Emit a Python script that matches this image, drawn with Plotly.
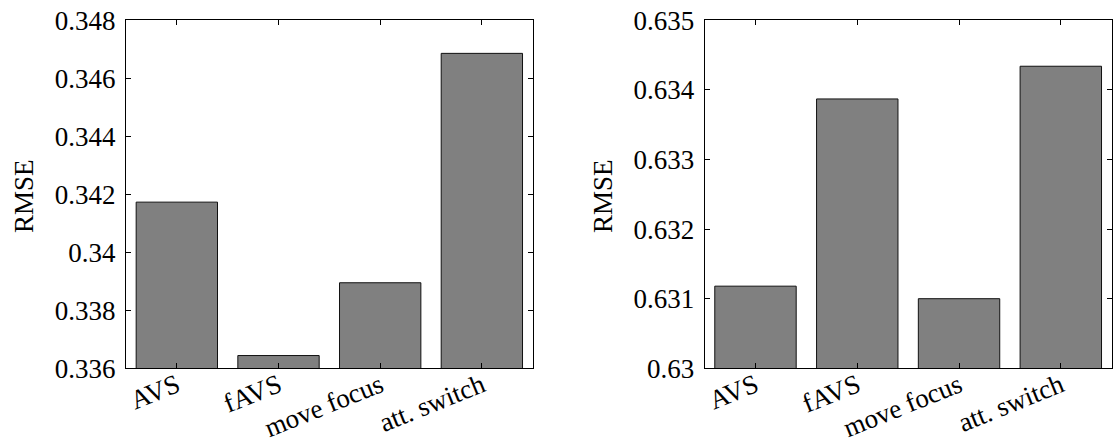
import plotly.graph_objects as go

categories = ["AVS", "fAVS", "move focus", "att. switch"]
left_values = [0.34173, 0.33644, 0.33895, 0.34686]
right_values = [0.63118, 0.63387, 0.63100, 0.63434]
left_ticks = [0.336, 0.338, 0.340, 0.342, 0.344, 0.346, 0.348]
left_ticktext = ["0.336", "0.338", "0.34", "0.342", "0.344", "0.346", "0.348"]
right_ticks = [0.630, 0.631, 0.632, 0.633, 0.634, 0.635]
right_ticktext = ["0.63", "0.631", "0.632", "0.633", "0.634", "0.635"]

W, H = 1116, 444
FONT = "Liberation Serif"
FS = 27

fig = go.Figure()
bar_style = dict(marker=dict(color="#808080", line=dict(color="#111111", width=1)),
                 width=0.8, showlegend=False)
fig.add_trace(go.Bar(x=categories, y=left_values, xaxis="x", yaxis="y", **bar_style))
fig.add_trace(go.Bar(x=categories, y=right_values, xaxis="x2", yaxis="y2", **bar_style))

ytop = 20.3
ybot = 368.3
ydom = [(H - ybot) / H, (H - ytop) / H]

axis_common = dict(showline=True, linecolor="black", linewidth=1, mirror="ticks",
                   ticks="inside", ticklen=5, tickcolor="black", showgrid=False,
                   zeroline=False, automargin=False,
                   tickfont=dict(family=FONT, size=FS, color="black"))

xaxis_extra = dict(range=[-0.5, 3.5], tickangle=-22, ticklabelstandoff=-10)
yaxis_extra = dict(ticklabelstandoff=4)

fig.update_layout(
    width=W, height=H,
    margin=dict(l=0, r=0, t=0, b=0),
    template="none",
    paper_bgcolor="white", plot_bgcolor="white",
    font=dict(family=FONT, size=FS, color="black"),
    xaxis=dict(domain=[126 / W, 532.7 / W], anchor="y", **xaxis_extra, **axis_common),
    yaxis=dict(domain=ydom, anchor="x", range=[0.336, 0.348],
               tickvals=left_ticks, ticktext=left_ticktext, **yaxis_extra, **axis_common),
    xaxis2=dict(domain=[704.6 / W, 1111.7 / W], anchor="y2", **xaxis_extra, **axis_common),
    yaxis2=dict(domain=ydom, anchor="x2", range=[0.630, 0.635],
                tickvals=right_ticks, ticktext=right_ticktext, **yaxis_extra, **axis_common),
    annotations=[
        dict(text="RMSE", textangle=-90, xref="paper", yref="paper",
             x=24 / W, y=(H - 196) / H, xanchor="center", yanchor="middle",
             showarrow=False, font=dict(family=FONT, size=FS, color="black")),
        dict(text="RMSE", textangle=-90, xref="paper", yref="paper",
             x=603 / W, y=(H - 196) / H, xanchor="center", yanchor="middle",
             showarrow=False, font=dict(family=FONT, size=FS, color="black")),
    ],
)

fig.write_html("out.html")
